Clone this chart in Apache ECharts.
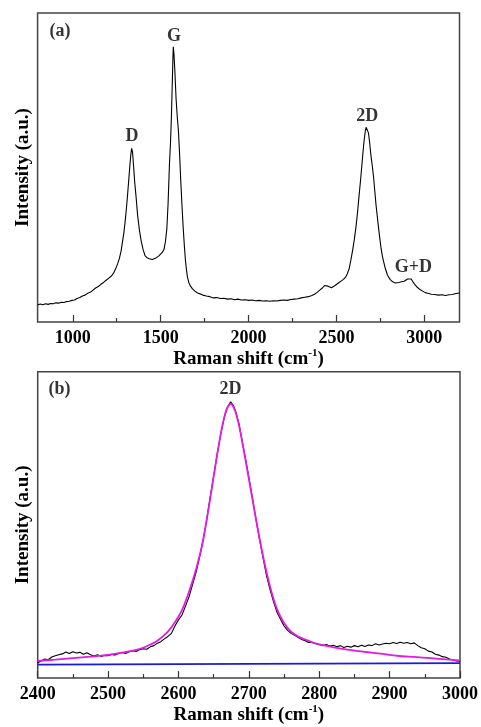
<!DOCTYPE html>
<html>
<head>
<meta charset="utf-8">
<script src="https://cdn.jsdelivr.net/npm/echarts@6/dist/echarts.min.js"></script>
<style>html,body{margin:0;padding:0;background:#fff;}#c{width:481px;height:727px;}</style>
</head>
<body>
<div id="c"></div>
<script>
// ---------- DATA ----------
// Panel (a): full Raman spectrum [Raman shift (cm-1), intensity (a.u.)]
const spectrumA = [
[800,5.5],[815,5.8],[830,5.6],[845,5.9],[860,5.7],[875,6.0],[890,5.9],[905,6.2],[920,6.1],[935,6.4],[950,6.3],[965,6.6],[980,6.7],[995,7.0],[1010,7.1],[1025,7.6],[1040,7.9],[1055,8.4],[1070,8.7],[1085,9.3],[1100,9.6],[1115,10.3],[1130,11.0],[1145,11.5],[1160,12.2],[1175,12.8],[1190,13.5],[1205,14.2],[1220,14.9],[1232,15.8],[1244,17.2],[1255,18.8],[1265,20.5],[1275,23],[1283,26],[1290,28.5],[1297,32],[1304,36],[1311,40.6],[1318,45.5],[1324,50],[1330,54],[1335,56.2],[1340,55],[1346,50.5],[1352,45.5],[1360,40.6],[1369,34.5],[1379,29.8],[1390,26],[1400,23.5],[1411,21.5],[1422,20.8],[1435,20.5],[1445,19.9],[1452,20.2],[1460,19.8],[1470,20.6],[1480,21.0],[1490,21.4],[1500,22.0],[1510,22.6],[1519,23.5],[1527,26],[1535,30],[1542,38],[1550,51],[1556,58],[1561,66],[1566,77],[1570,86],[1572,89.1],[1576,86.5],[1581,81],[1588,72],[1595,66],[1601,62],[1608,54],[1615,45],[1622,37],[1629,29.8],[1635,24.5],[1641,20],[1647,16.8],[1652,14.7],[1660,12.8],[1670,11.6],[1680,10.8],[1695,10.0],[1710,9.4],[1725,9.1],[1740,8.7],[1760,8.4],[1780,8.2],[1800,7.8],[1820,7.9],[1840,7.6],[1860,7.7],[1880,7.4],[1900,7.5],[1920,7.2],[1940,7.4],[1960,7.1],[1980,7.2],[2000,7.0],[2020,7.1],[2040,6.9],[2060,7.0],[2080,6.8],[2100,6.9],[2120,6.7],[2140,6.9],[2160,6.8],[2180,7.0],[2200,7.1],[2220,7.0],[2240,7.3],[2260,7.4],[2280,7.5],[2300,7.8],[2320,8.0],[2340,8.2],[2360,8.6],[2375,9.0],[2390,9.6],[2405,10.3],[2420,11.0],[2432,11.8],[2442,12.1],[2452,11.6],[2462,11.3],[2472,11.1],[2482,11.5],[2492,11.8],[2502,12.3],[2515,12.8],[2528,13.3],[2540,13.8],[2552,14.5],[2562,15.6],[2572,17.2],[2582,20],[2592,23.2],[2602,26.8],[2612,31.2],[2620,35.5],[2628,40.5],[2639,47],[2648,53],[2656,58],[2664,61.8],[2669,63],[2673,63.2],[2677,62.6],[2682,61.2],[2688,58.5],[2696,54],[2704,50.5],[2711,47],[2718,42.5],[2725,38],[2732,34.3],[2739,30.8],[2746,27.3],[2754,23.8],[2761,21.4],[2768,19.6],[2778,17.3],[2790,15.2],[2805,13.8],[2820,13.0],[2835,12.6],[2844,12.5],[2855,12.8],[2870,13.0],[2885,13.2],[2895,13.5],[2905,13.9],[2915,14.2],[2925,13.9],[2935,13.0],[2945,12.2],[2955,11.5],[2965,11.0],[2975,10.5],[2990,10.0],[3005,9.5],[3020,9.3],[3040,9.0],[3060,8.9],[3080,8.7],[3100,8.8],[3120,8.6],[3140,8.8],[3160,8.9],[3180,9.2],[3200,9.4]
];
// Panel (b): 2D band measured spectrum
const spectrumB = [
[2400,5.0],[2405,5.6],[2410,6.2],[2415,6.0],[2420,6.9],[2425,7.3],[2430,7.6],[2435,7.9],[2440,8.5],[2445,8.0],[2450,8.6],[2455,8.2],[2460,8.4],[2465,7.8],[2470,8.3],[2475,7.6],[2480,7.2],[2485,7.6],[2490,7.1],[2495,7.4],[2500,7.3],[2505,7.8],[2510,7.5],[2515,8.0],[2520,8.4],[2525,8.0],[2530,8.6],[2535,8.9],[2540,8.7],[2545,9.3],[2550,9.6],[2555,9.4],[2560,10.2],[2565,10.6],[2570,11.4],[2575,11.9],[2580,12.8],[2585,13.6],[2590,14.6],[2595,17.0],[2600,19.0],[2605,20.6],[2610,23.5],[2615,26.5],[2620,30.5],[2625,34.5],[2630,39.5],[2635,45],[2640,51.5],[2645,59],[2650,66],[2655,73],[2660,79.5],[2665,85],[2670,88.5],[2674,90.2],[2678,89],[2682,86.5],[2686,83],[2690,78],[2695,72],[2700,65.5],[2705,59],[2710,52],[2715,45.5],[2720,39.5],[2725,33.5],[2730,29],[2735,25],[2740,21.5],[2745,19.2],[2750,17.0],[2755,15.6],[2760,14.6],[2765,14.0],[2770,13.3],[2775,12.6],[2780,12.2],[2785,11.6],[2790,11.7],[2795,11.2],[2800,11.0],[2805,10.6],[2810,11.0],[2815,10.5],[2820,10.7],[2825,10.2],[2830,10.6],[2835,10.0],[2840,10.4],[2845,10.1],[2850,10.6],[2855,10.2],[2860,10.7],[2865,10.3],[2870,10.8],[2875,10.6],[2880,11.2],[2885,10.8],[2890,11.1],[2895,11.4],[2900,11.2],[2905,11.6],[2910,11.3],[2915,11.7],[2920,11.4],[2925,11.6],[2930,11.2],[2935,11.5],[2940,10.6],[2945,9.9],[2950,9.6],[2955,8.8],[2960,8.5],[2965,7.8],[2970,7.5],[2975,7.0],[2980,6.8],[2985,6.2],[2990,6.0],[2995,5.6],[3000,5.5]
];
// Panel (b): fitted 2D peak
const fitB = [
[2400,5.6],[2425,6.0],[2450,6.5],[2475,7.0],[2500,7.6],[2520,8.3],[2540,9.2],[2555,10.4],[2570,12.2],[2585,15.2],[2595,18.2],[2605,22.2],[2615,28.2],[2625,35.5],[2635,45],[2645,58.5],[2655,73],[2662,82],[2668,87.5],[2674,89.5],[2680,87.5],[2686,82.5],[2693,74],[2700,65],[2710,52],[2720,40],[2730,30],[2740,22.5],[2750,18.0],[2760,15.2],[2770,13.6],[2780,12.6],[2795,11.3],[2817,10.2],[2840,9.3],[2864,8.6],[2890,7.9],[2911,7.3],[2935,6.9],[2959,6.5],[2980,6.1],[3000,5.8]
];
// Panel (b): baseline
const baseB = [[2400,4.4],[3000,4.9]];

// Tick values
const ticksA = [1000,1500,2000,2500,3000];
const minorTicksA = [1250,1750,2250,2750];
const ticksB = [2400,2500,2600,2700,2800,2900,3000];

// Peak annotations [x, y, text]
const labelsA = [[927,94.2,'(a)'],[1337,60,'D'],[1576,92.3,'G'],[2675,66.4,'2D'],[2937,17.6,'G+D']];
const labelsB = [[2431,94.2,'(b)'],[2674,94.2,'2D']];

// ---------- CHART ----------
const FF = '"Liberation Serif","Times New Roman",serif';
const chart = echarts.init(document.getElementById('c'), null, {renderer:'canvas'});
const labelStyle = {fontFamily:FF, fontWeight:'bold', fontSize:18, color:'#000'};
const nameStyleX = {
  fontFamily:FF, fontWeight:'bold', fontSize:19, color:'#000', lineHeight:22,
  rich:{ sup:{fontFamily:FF, fontWeight:'bold', fontSize:11, color:'#000', lineHeight:11, verticalAlign:'top'} }
};
const nameStyleY = {fontFamily:FF, fontWeight:'bold', fontSize:19, color:'#000'};

function xAxisMain(gridIndex, min, max, ticks, nameGap){
  return {
    type:'value', gridIndex, min, max, position:'bottom',
    axisLine:{show:false},
    axisTick:{show:true, inside:true, length:7, lineStyle:{color:'#333', width:1.2}, customValues:ticks},
    axisLabel:{show:true, margin:7, customValues:ticks, formatter:v=>String(v), ...labelStyle},
    splitLine:{show:false},
    name:'Raman shift (cm{sup|-1})', nameLocation:'middle', nameGap, nameTextStyle:nameStyleX
  };
}
function yAxis(gridIndex){
  return {
    type:'value', gridIndex, min:0, max:100,
    axisLine:{show:false}, axisTick:{show:false}, axisLabel:{show:false}, splitLine:{show:false},
    name:'Intensity (a.u.)', nameLocation:'middle', nameGap:5, nameTextStyle:nameStyleY
  };
}
function labelSeries(xi, yi, data){
  return {
    type:'scatter', xAxisIndex:xi, yAxisIndex:yi, data, symbolSize:0.1, silent:true,
    label:{show:true, position:'inside', formatter:p=>p.value[2], fontFamily:FF, fontWeight:'bold', fontSize:18, color:'#000'},
    z:10
  };
}

const option = {
  animation:false,
  backgroundColor:'#fff',
  grid:[
    {left:37.6, right:21.5, top:13, height:309, show:true, borderColor:'#444', borderWidth:1.5, backgroundColor:'transparent'},
    {left:37.7, right:18.3, top:371.7, height:309, show:true, borderColor:'#444', borderWidth:1.5, backgroundColor:'transparent'}
  ],
  xAxis:[
    xAxisMain(0, 800, 3200, ticksA, 24),
    {type:'value', gridIndex:0, min:800, max:3200, position:'bottom',
     axisLine:{show:false}, axisLabel:{show:false}, splitLine:{show:false},
     axisTick:{show:true, inside:true, length:4, lineStyle:{color:'#333', width:1.2}, customValues:minorTicksA}},
    Object.assign(xAxisMain(1, 2400, 3000, ticksB, 24), {interval:100,
      minorTick:{show:true, splitNumber:2, length:4, lineStyle:{color:'#333', width:1.2}}})
  ],
  yAxis:[ yAxis(0), yAxis(1) ],
  series:[
    {type:'line', xAxisIndex:0, yAxisIndex:0, data:spectrumA, showSymbol:false, lineStyle:{color:'#000', width:1.1}, silent:true},
    {type:'line', xAxisIndex:2, yAxisIndex:1, data:baseB, showSymbol:false, lineStyle:{color:'#1a1adc', width:1.6}, silent:true},
    {type:'line', xAxisIndex:2, yAxisIndex:1, data:spectrumB, showSymbol:false, lineStyle:{color:'#000', width:1.1}, silent:true},
    {type:'line', xAxisIndex:2, yAxisIndex:1, data:fitB, smooth:0.3, showSymbol:false, lineStyle:{color:'#e619e6', width:1.8}, silent:true},
    labelSeries(0, 0, labelsA),
    labelSeries(2, 1, labelsB)
  ]
};
chart.setOption(option);
</script>
</body>
</html>
